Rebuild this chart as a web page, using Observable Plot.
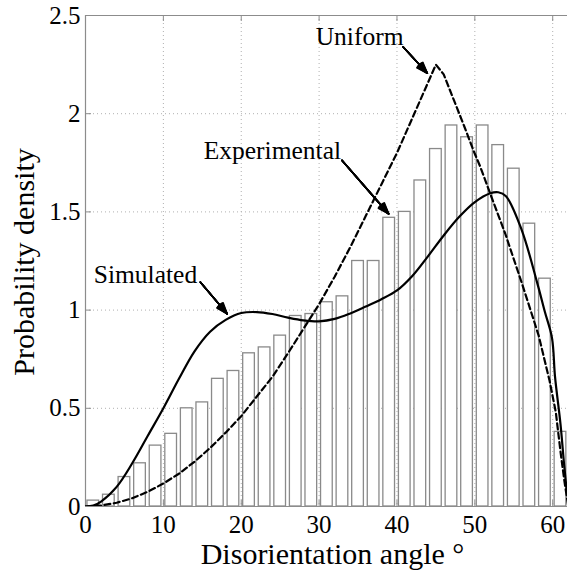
<!DOCTYPE html>
<html>
<head>
<meta charset="utf-8">
<script src="https://cdn.jsdelivr.net/npm/d3@7"></script>
<script src="https://cdn.jsdelivr.net/npm/@observablehq/plot@0.6"></script>
<style>
  html, body { margin: 0; padding: 0; background: #fff; }
  #chart svg { display: block; }
</style>
</head>
<body>
<div id="chart"></div>
<script>
// ---- Data ----
// Experimental histogram: bin centres (degrees) and probability density
const binCenters = [1, 3, 5, 7, 9, 11, 13, 15, 17, 19, 21, 23, 25, 27, 29, 31,
                    33, 35, 37, 39, 41, 43, 45, 47, 49, 51, 53, 55, 57, 59, 61];
const binDensity = [0.03, 0.06, 0.15, 0.22, 0.31, 0.37, 0.50, 0.53, 0.65, 0.69, 0.78, 0.81, 0.87, 0.97, 0.98, 1.04,
                    1.07, 1.25, 1.25, 1.47, 1.50, 1.66, 1.82, 1.94, 1.88, 1.94, 1.84, 1.72, 1.44, 1.16, 0.38];

// Simulated curve (solid)
const simAngle   = [0, 1, 2, 4, 6, 8, 10, 12, 14, 16, 18, 20, 22, 24, 26, 28, 30, 32, 34, 36, 38, 40,
                    42, 44, 46, 48, 50, 52, 53, 54, 56, 58, 59, 59.9, 60.3, 61.0, 61.5, 61.9, 62.3];
const simDensity = [0, 0.005, 0.025, 0.10, 0.22, 0.36, 0.50, 0.65, 0.79, 0.89, 0.95, 0.985, 0.99, 0.98, 0.962, 0.948, 0.943, 0.955, 0.983, 1.018, 1.055, 1.10,
                    1.175, 1.275, 1.38, 1.475, 1.55, 1.595, 1.60, 1.58, 1.41, 1.14, 0.99, 0.86, 0.66, 0.42, 0.20, 0.06, 0];

// Uniform curve (dashed)
const uniAngle   = [0, 2, 4, 6, 8, 10, 12, 14, 16, 18, 20, 22, 24, 26, 28, 30, 32, 34, 36, 38, 40, 42, 44, 45,
                    46, 47.3, 48.6, 49.85, 50.7, 52.0, 53.9, 56.1, 58.2, 59.6, 60.4, 61.0, 61.5, 62.0];
const uniDensity = [0, 0.005, 0.019, 0.042, 0.075, 0.117, 0.167, 0.228, 0.298, 0.376, 0.46, 0.56, 0.66, 0.78, 0.905, 1.03,
                    1.17, 1.32, 1.48, 1.64, 1.80, 1.98, 2.16, 2.25,
                    2.20, 2.07, 1.94, 1.81, 1.73, 1.59, 1.39, 1.13, 0.87, 0.64, 0.48, 0.28, 0.13, 0];

// Ticks
const xTicks = [0, 10, 20, 30, 40, 50, 60];
const yTicks = [0, 0.5, 1, 1.5, 2, 2.5];

// Annotations (data coordinates)
const labelText = ["Uniform", "Experimental", "Simulated"];
const labelX    = [35.2, 24.0, 7.7];
const labelY    = [2.39, 1.81, 1.18];
const arrowX1   = [40.8, 32.95, 14.76];
const arrowY1   = [2.34, 1.762, 1.142];
const arrowX2   = [43.9, 38.93, 18.19];
const arrowY2   = [2.206, 1.49, 0.981];

// ---- Build tables ----
const bars = binCenters.map((c, i) => ({c, v: binDensity[i]}));
const sim = simAngle.map((a, i) => ({a, v: simDensity[i]}));
const uni = uniAngle.map((a, i) => ({a, v: uniDensity[i]}));
const labels = labelText.map((t, i) => ({t, x: labelX[i], y: labelY[i]}));
const arrows = labelText.map((t, i) => ({x1: arrowX1[i], y1: arrowY1[i], x2: arrowX2[i], y2: arrowY2[i]}));

// ---- Layout ----
const W = 567, H = 571;
const mL = 85, mR = 0, mT = 15, mB = 65;
const frameW = W - mL - mR, frameH = H - mT - mB;
const tickLen = 6;
const halfBar = 0.75;
const serif = "Liberation Serif, Times New Roman, Times, serif";
const axisGray = "#8c8c8c";

// Filled-looking arrowheads: a fan of arrow heads with growing opening angles
const headAngles = [4, 10, 16, 22, 28, 34, 40];
const arrowMarks = headAngles.map(a => Plot.arrow(arrows, {
  x1: "x1", y1: "y1", x2: "x2", y2: "y2",
  stroke: "#000", strokeWidth: 1.6, headLength: 11, headAngle: a
}));

const chart = Plot.plot({
  width: W,
  height: H,
  marginLeft: mL,
  marginRight: mR,
  marginTop: mT,
  marginBottom: mB,
  style: {fontFamily: serif, fontSize: "25px", background: "#fff", color: "#000"},
  x: {domain: [0, 61.9], label: null},
  y: {domain: [0, 2.5], label: null},
  marks: [
    // dotted grid
    Plot.ruleX(xTicks.filter(d => d > 0), {stroke: "#b0b0b0", strokeWidth: 1, strokeDasharray: "1,3"}),
    Plot.ruleY(yTicks.filter(d => d > 0 && d < 2.5), {stroke: "#b0b0b0", strokeWidth: 1, strokeDasharray: "1,3"}),
    // histogram
    Plot.rectY(bars, {x1: d => d.c - halfBar, x2: d => d.c + halfBar, y1: 0, y2: "v",
      fill: "#fff", stroke: "#8a8a8a", strokeWidth: 1.3, clip: true}),
    // frame lines
    Plot.ruleY([0, 2.5], {stroke: axisGray, strokeWidth: 1.2}),
    Plot.ruleX([0], {stroke: axisGray, strokeWidth: 1.2}),
    // inward ticks
    Plot.ruleX(xTicks, {stroke: axisGray, strokeWidth: 1, insetTop: frameH - tickLen}),
    Plot.ruleX(xTicks, {stroke: axisGray, strokeWidth: 1, insetBottom: frameH - tickLen}),
    Plot.ruleY(yTicks, {stroke: axisGray, strokeWidth: 1, insetRight: frameW - tickLen}),
    // curves
    Plot.line(uni, {x: "a", y: "v", stroke: "#000", strokeWidth: 2.2, strokeDasharray: "6,3.5", clip: true}),
    Plot.line(sim, {x: "a", y: "v", stroke: "#000", strokeWidth: 2.2, curve: "catmull-rom", clip: true}),
    // annotation arrows
    ...arrowMarks,
    Plot.text(labels, {x: "x", y: "y", text: "t", fontSize: 25.5, fontFamily: serif, fill: "#000"}),
    // axes
    Plot.axisX({ticks: xTicks, tickSize: 0, tickPadding: 9, tickFormat: d => String(d),
      fontSize: 25, fontFamily: serif, label: null}),
    Plot.axisY({ticks: yTicks, tickSize: 0, tickPadding: 5, tickFormat: d => String(d),
      fontSize: 25, fontFamily: serif, label: null}),
    // axis titles
    Plot.text(["Disorientation angle \u00B0"], {frameAnchor: "bottom", textAnchor: "middle", lineAnchor: "middle",
      dx: 6, dy: 48, fontSize: 30, fontFamily: serif, fill: "#000"}),
    Plot.text(["Probability density"], {frameAnchor: "left", textAnchor: "middle", lineAnchor: "middle",
      rotate: -90, dx: -61, dy: 1, fontSize: 30, fontFamily: serif, fill: "#000"})
  ]
});

document.getElementById("chart").appendChild(chart);
</script>
</body>
</html>
